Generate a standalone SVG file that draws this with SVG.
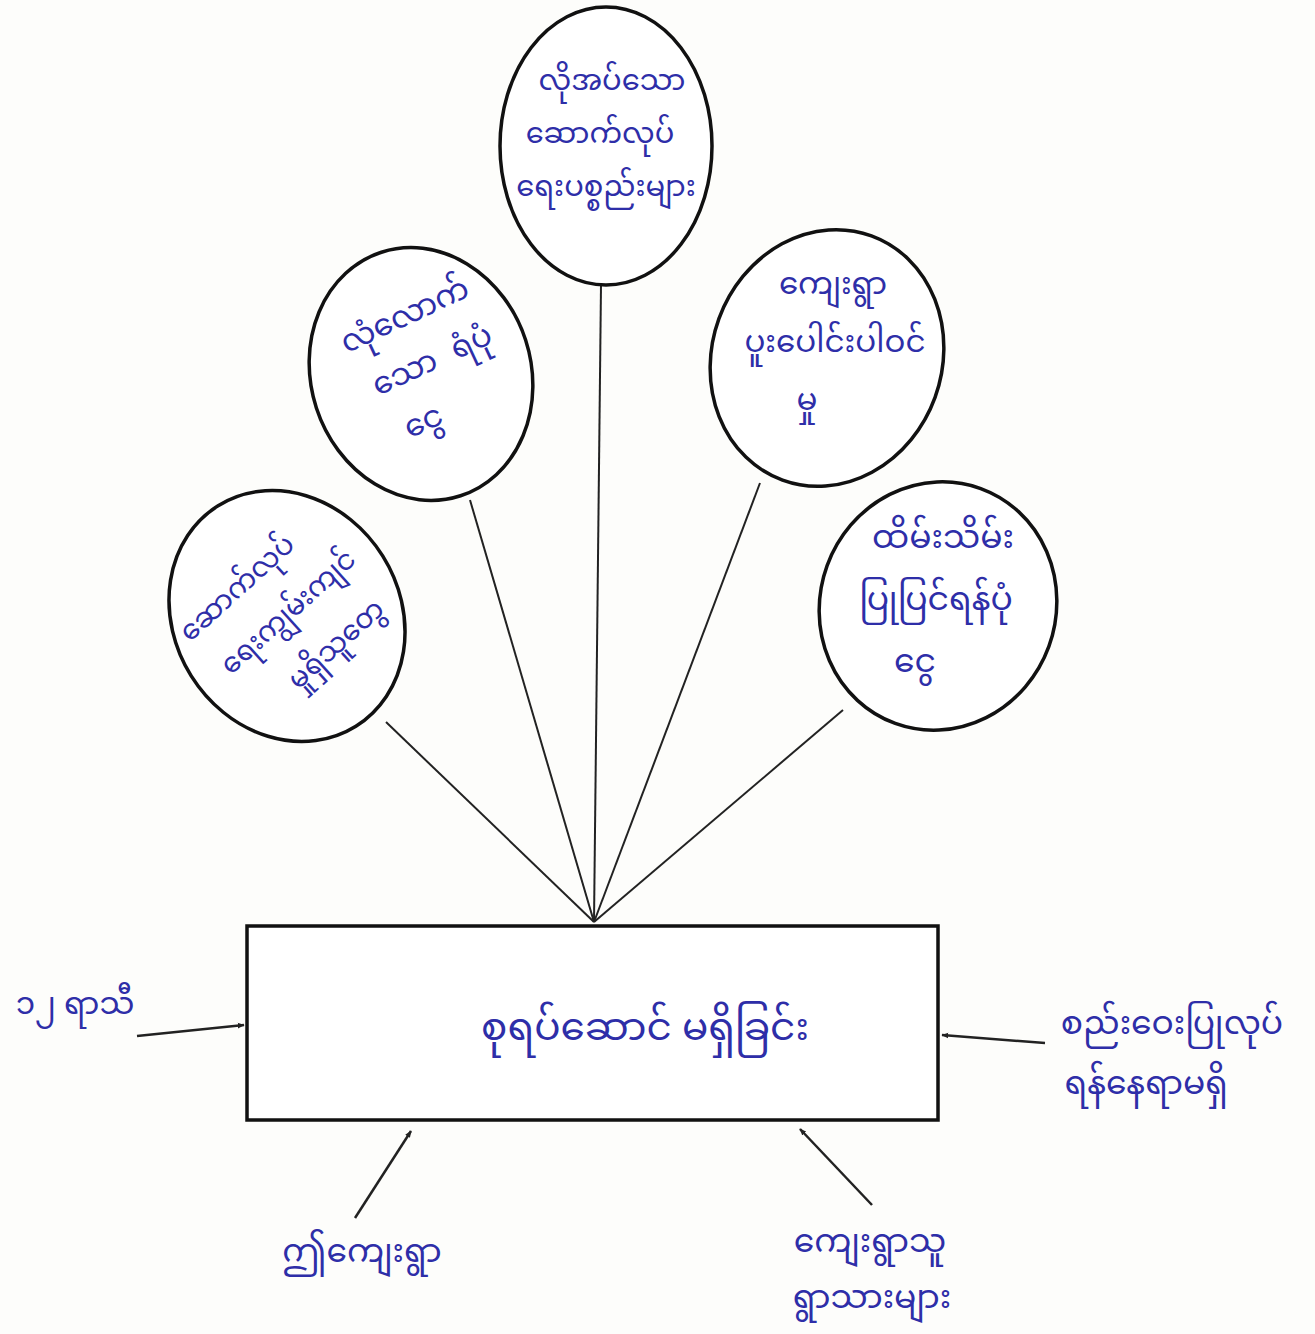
<svg xmlns="http://www.w3.org/2000/svg" width="1315" height="1334" viewBox="0 0 1315 1334">
<defs>
<style>
.bub{fill:#fff;stroke:#111;stroke-width:3.5}
.box{fill:#fff;stroke:#111;stroke-width:3.5}
.ln{stroke:#222;stroke-width:2;fill:none}
.ar{stroke:#222;stroke-width:2.5;fill:none;marker-end:url(#ah)}
.t{font-family:"Noto Sans Myanmar","Padauk","Myanmar Text","Noto Sans",sans-serif;fill:#2e2ea8;text-anchor:middle}
.xxs{font-size:28px}
.xs{font-size:29px}
.s{font-size:31px}
.l{font-size:33px}
.m{font-size:39px}
</style>
<marker id="ah" viewBox="0 0 10 10" refX="9" refY="5" markerWidth="7" markerHeight="7" markerUnits="userSpaceOnUse" orient="auto"><path d="M0,1 L10,5 L0,9 z" fill="#222"/></marker>
</defs>
<rect width="1315" height="1334" fill="#fdfdfb"/>
<g id="connectors">
<line class="ln" x1="601" y1="285" x2="594" y2="922"/>
<line class="ln" x1="470" y1="500" x2="594" y2="922"/>
<line class="ln" x1="760" y1="483" x2="594" y2="922"/>
<line class="ln" x1="386" y1="722" x2="594" y2="922"/>
<line class="ln" x1="843" y1="710" x2="594" y2="922"/>
<line class="ar" x1="137" y1="1036" x2="244" y2="1025"/>
<line class="ar" x1="1045" y1="1043" x2="942" y2="1035"/>
<line class="ar" x1="355" y1="1218" x2="411" y2="1131"/>
<line class="ar" x1="872" y1="1205" x2="800" y2="1129"/>
</g>
<g id="n-top">
<ellipse class="bub" cx="606" cy="146" rx="106" ry="139"/>
<text class="t xs" x="612" y="90">လိုအပ်သော</text>
<text class="t xs" x="600" y="143">ဆောက်လုပ်</text>
<text class="t xs" x="606" y="196">ရေးပစ္စည်းများ</text>
</g>
<g id="n-ul">
<ellipse class="bub" cx="421" cy="374" rx="110" ry="128" transform="rotate(-18 421 374)"/>
<g transform="translate(421 374) rotate(-25)">
<text class="t s" x="10" y="-50">လုံလောက်</text>
<text class="t s" x="16" y="2" word-spacing="10">သော ရံပုံ</text>
<text class="t s" x="-18" y="54">ငွေ</text>
</g>
</g>
<g id="n-ur">
<ellipse class="bub" cx="827" cy="358" rx="115" ry="130" transform="rotate(20 827 358)"/>
<text class="t s" x="833" y="294">ကျေးရွာ</text>
<text class="t s" x="835" y="352">ပူးပေါင်းပါဝင်</text>
<text class="t s" x="807" y="410">မှု</text>
</g>
<g id="n-ll">
<ellipse class="bub" cx="287" cy="616" rx="113" ry="130" transform="rotate(-32 287 616)"/>
<g transform="translate(290 617) rotate(-42)">
<text class="t xxs" x="-20" y="-48">ဆောက်လုပ်</text>
<text class="t xxs" x="2" y="4">ရေးကျွမ်းကျင်</text>
<text class="t xxs" x="16" y="60">မှုရှိသူတွေ</text>
</g>
</g>
<g id="n-lr">
<ellipse class="bub" cx="938" cy="606" rx="118" ry="125" transform="rotate(20 938 606)"/>
<text class="t l" x="943" y="548">ထိမ်းသိမ်း</text>
<text class="t l" x="936" y="610">ပြုပြင်ရန်ပုံ</text>
<text class="t l" x="915" y="672">ငွေ</text>
</g>
<g id="n-center">
<rect class="box" x="247" y="926" width="691" height="194"/>
<text class="t m" x="645" y="1040">စုရပ်ဆောင် မရှိခြင်း</text>
</g>
<g id="in-left">
<text class="t s" x="75" y="1014">၁၂ ရာသီ</text>
</g>
<g id="in-right">
<text class="t l" x="1172" y="1034">စည်းဝေးပြုလုပ်</text>
<text class="t l" x="1146" y="1094">ရန်နေရာမရှိ</text>
</g>
<g id="in-bl">
<text class="t l" x="362" y="1262">ဤကျေးရွာ</text>
</g>
<g id="in-br">
<text class="t l" x="870" y="1252">ကျေးရွာသူ</text>
<text class="t l" x="872" y="1308">ရွာသားများ</text>
</g>
</svg>
